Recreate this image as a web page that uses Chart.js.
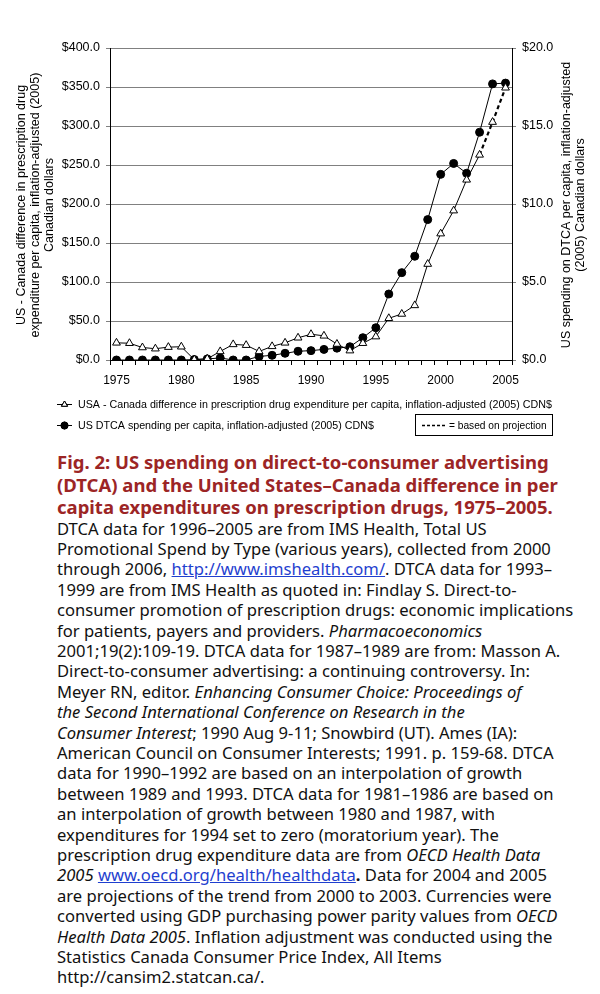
<!DOCTYPE html>
<html>
<head>
<meta charset="utf-8">
<script src="https://cdn.jsdelivr.net/npm/chart.js@4/dist/chart.umd.min.js"></script>
<style>
  html, body { margin: 0; padding: 0; background: #fff; }
  #wrap { width: 600px; height: 445px; }
  .caption { margin: 6px 0 0 57px; width: 540px; white-space: nowrap; font-family: "Noto Sans", sans-serif; }
  .caption h2 { margin: 0; font-size: 18.5px; line-height: 22.5px; font-weight: bold; color: #9c2525; }
  .caption p { margin: 0; font-size: 16.6px; line-height: 20.4px; color: #111; }
  .caption a { color: #1f3fcf; text-decoration: underline; }
</style>
</head>
<body>
<div id="wrap"><canvas id="dtcaChart" width="600" height="445"></canvas></div>
<div class="caption">
  <h2>Fig. 2: US spending on direct-to-consumer advertising<br>(DTCA) and the United States–Canada difference in per<br>capita expenditures on prescription drugs, 1975–2005.</h2>
  <p>DTCA data for 1996–2005 are from IMS Health, Total US<br>
Promotional Spend by Type (various years), collected from 2000<br>
through 2006, <a href="#">http://www.imshealth.com/</a>. DTCA data for 1993–<br>
1999 are from IMS Health as quoted in: Findlay S. Direct-to-<br>
consumer promotion of prescription drugs: economic implications<br>
for patients, payers and providers. <i>Pharmacoeconomics</i><br>
2001;19(2):109-19. DTCA data for 1987–1989 are from: Masson A.<br>
Direct-to-consumer advertising: a continuing controversy. In:<br>
Meyer RN, editor. <i>Enhancing Consumer Choice: Proceedings of</i><br>
<i>the Second International Conference on Research in the</i><br>
<i>Consumer Interest</i>; 1990 Aug 9-11; Snowbird (UT). Ames (IA):<br>
American Council on Consumer Interests; 1991. p. 159-68. DTCA<br>
data for 1990–1992 are based on an interpolation of growth<br>
between 1989 and 1993. DTCA data for 1981–1986 are based on<br>
an interpolation of growth between 1980 and 1987, with<br>
expenditures for 1994 set to zero (moratorium year). The<br>
prescription drug expenditure data are from <i>OECD Health Data</i><br>
<i>2005</i> <a href="#">www.oecd.org/health/healthdata</a><b>.</b> Data for 2004 and 2005<br>
are projections of the trend from 2000 to 2003. Currencies were<br>
converted using GDP purchasing power parity values from <i>OECD</i><br>
<i>Health Data 2005</i>. Inflation adjustment was conducted using the<br>
Statistics Canada Consumer Price Index, All Items<br>
http://cansim2.statcan.ca/.</p>
</div>
<script>
const years = [1975, 1976, 1977, 1978, 1979, 1980, 1981, 1982, 1983, 1984,
  1985, 1986, 1987, 1988, 1989, 1990, 1991, 1992, 1993, 1994,
  1995, 1996, 1997, 1998, 1999, 2000, 2001, 2002, 2003, 2004, 2005]

// US - Canada difference, left axis ($)
const usCanadaDiff = [22, 21.5, 16, 14.5, 16.5, 17, 0.5, 1.5, 11, 20,
  19, 11, 17.5, 22, 28.5, 33, 31, 20.5, 12, 21.5,
  30, 53.5, 59, 70, 123, 162, 191.5, 231, 263, 305, 349]

// US DTCA spending, right axis ($)
const dtcaSpending = [0, 0, 0, 0, 0, 0, 0.03, 0.07, 0.13, 0,
  0, 0.23, 0.3, 0.43, 0.56, 0.6, 0.68, 0.76, 0.85, 1.43,
  2.07, 4.23, 5.6, 6.65, 9.0, 11.9, 12.6, 11.97, 14.6, 17.7, 17.75]

const projectedFrom = 2003

const leftTitle = ['US - Canada difference in prescription drug',
  'expenditure per capita, inflation-adjusted (2005)', 'Canadian dollars']
const rightTitle = ['US spending on DTCA per capita, inflation-adjusted',
  '(2005) Canadian dollars']
const projectionNote = '= based on projection'

Chart.defaults.font.family = '"Liberation Sans", Arial, sans-serif'
Chart.defaults.font.size = 12
Chart.defaults.color = '#000'

const FONT = '"Liberation Sans", Arial, sans-serif'

// axis titles + legend, drawn the Excel way
const extras = {
  id: 'extras',
  afterDraw(chart) {
    const { ctx, chartArea } = chart
    const cy = (chartArea.top + chartArea.bottom) / 2 + 1
    ctx.save()
    ctx.fillStyle = '#000'
    ctx.strokeStyle = '#000'
    ctx.textAlign = 'center'
    ctx.textBaseline = 'middle'
    ctx.font = '12.5px ' + FONT
    leftTitle.forEach((line, i) => {
      ctx.save()
      ctx.translate(22 + i * 14, cy)
      ctx.rotate(-Math.PI / 2)
      ctx.fillText(line, 0, 0)
      ctx.restore()
    })
    rightTitle.forEach((line, i) => {
      ctx.save()
      ctx.translate(567 + i * 14, cy)
      ctx.rotate(-Math.PI / 2)
      ctx.fillText(line, 0, 0)
      ctx.restore()
    })

    // legend rows
    ctx.textAlign = 'left'
    ctx.font = '10.7px ' + FONT
    ctx.lineWidth = 1
    const rows = [{ y: 404, ds: chart.data.datasets[0] }, { y: 425, ds: chart.data.datasets[1] }]
    rows.forEach(({ y, ds }) => {
      ctx.beginPath()
      ctx.moveTo(57, y + 0.5)
      ctx.lineTo(72, y + 0.5)
      ctx.stroke()
      Chart.helpers.drawPoint(ctx, {
        pointStyle: ds.pointStyle, radius: 3.5, borderWidth: 1
      }, 64.5, y + 0.5)
      ctx.fillStyle = ds.pointBackgroundColor
      ctx.fill()
      ctx.stroke()
      ctx.fillStyle = '#000'
      ctx.fillText(ds.label, 78, y + 1)
    })

    // projection box
    ctx.strokeRect(415.5, 414.5, 137, 21)
    ctx.beginPath()
    ctx.setLineDash([3, 2])
    ctx.lineWidth = 1.6
    ctx.moveTo(422, 425.5)
    ctx.lineTo(446, 425.5)
    ctx.stroke()
    ctx.setLineDash([])
    ctx.font = '10.2px ' + FONT
    ctx.fillText(projectionNote, 449, 426)
    ctx.restore()
  }
}

new Chart(document.getElementById('dtcaChart'), {
  type: 'line',
  data: {
    labels: years,
    datasets: [{
      label: 'USA - Canada difference in prescription drug expenditure per capita, inflation-adjusted (2005) CDN$',
      data: usCanadaDiff,
      yAxisID: 'y',
      borderColor: '#000',
      borderWidth: 1,
      pointStyle: 'triangle',
      pointRadius: 4.5,
      pointBorderWidth: 1,
      pointBackgroundColor: '#fff',
      pointBorderColor: '#000',
      lineTension: 0,
      segment: {
        borderDash: c => years[c.p0DataIndex] >= projectedFrom ? [4, 3] : undefined,
        borderWidth: c => years[c.p0DataIndex] >= projectedFrom ? 2.2 : 1
      }
    }, {
      label: 'US DTCA spending per capita, inflation-adjusted (2005) CDN$',
      data: dtcaSpending,
      yAxisID: 'y1',
      borderColor: '#000',
      borderWidth: 1,
      pointStyle: 'circle',
      pointRadius: 4,
      pointBackgroundColor: '#000',
      pointBorderColor: '#000',
      lineTension: 0
    }]
  },
  options: {
    responsive: false,
    animation: false,
    layout: { padding: { top: 48, left: 0, right: 0, bottom: 0 } },
    plugins: { legend: { display: false }, tooltip: { enabled: false } },
    scales: {
      x: {
        type: 'category',
        offset: true,
        afterFit: s => { s.height = 85 },
        border: { color: '#000' },
        grid: { offset: true, drawOnChartArea: false, tickLength: 5, color: '#000' },
        ticks: {
          autoSkip: false,
          maxRotation: 0,
          padding: 8,
          font: { size: 12 },
          callback: (v, i) => years[i] % 5 === 0 ? String(years[i]) : ''
        }
      },
      y: {
        position: 'left',
        min: 0,
        max: 400,
        afterFit: s => { s.width = 110 },
        border: { color: '#000' },
        grid: { color: '#808080', tickLength: 4 },
        ticks: { stepSize: 50, padding: 6, font: { size: 12.5 }, callback: v => '$' + v.toFixed(1) }
      },
      y1: {
        position: 'right',
        min: 0,
        max: 20,
        afterFit: s => { s.width = 88 },
        border: { color: '#000' },
        grid: { drawOnChartArea: false, color: '#808080', tickLength: 4 },
        ticks: { stepSize: 5, padding: 6, font: { size: 12.5 }, callback: v => '$' + v.toFixed(1) }
      }
    }
  },
  plugins: [extras]
})
</script>
</body>
</html>
